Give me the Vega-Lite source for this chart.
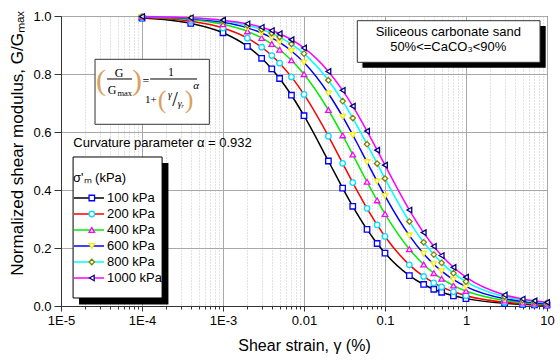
{
  "$schema": "https://vega.github.io/schema/vega-lite/v6.json",
  "width": 486,
  "height": 290,
  "autosize": {"type": "none"},
  "padding": {"left": 61, "top": 16, "right": 13, "bottom": 56},
  "config": {
    "font": "Liberation Sans",
    "view": {"stroke": "#333", "strokeWidth": 1},
    "axis": {"domainColor": "#333", "tickColor": "#333", "labelColor": "black", "titleColor": "black", "titleFontWeight": "normal", "labelFontSize": 13, "labelFont": "Liberation Sans", "titleFont": "Liberation Sans"}
  },
  "datasets": {
    "curves": [
      {"s":"100 kPa","x":0.0001,"g":0.9929},{"s":"100 kPa","x":0.0004,"g":0.9746},{"s":"100 kPa","x":0.001,"g":0.9422},{"s":"100 kPa","x":0.002,"g":0.8953},{"s":"100 kPa","x":0.003,"g":0.8542},{"s":"100 kPa","x":0.004,"g":0.8176},{"s":"100 kPa","x":0.005,"g":0.7845},{"s":"100 kPa","x":0.007,"g":0.7268},{"s":"100 kPa","x":0.01,"g":0.6561},{"s":"100 kPa","x":0.02,"g":0.5},{"s":"100 kPa","x":0.03,"g":0.4067},{"s":"100 kPa","x":0.04,"g":0.3439},{"s":"100 kPa","x":0.06,"g":0.2643},{"s":"100 kPa","x":0.08,"g":0.2155},{"s":"100 kPa","x":0.1,"g":0.1824},{"s":"100 kPa","x":0.2,"g":0.1047},{"s":"100 kPa","x":0.3,"g":0.0742},{"s":"100 kPa","x":0.4,"g":0.0578},{"s":"100 kPa","x":0.5,"g":0.0474},{"s":"100 kPa","x":0.7,"g":0.0351},{"s":"100 kPa","x":1,"g":0.0254},{"s":"100 kPa","x":3,"g":0.0093},{"s":"100 kPa","x":5,"g":0.0058},{"s":"100 kPa","x":7,"g":0.0042},{"s":"100 kPa","x":10,"g":0.003},
      {"s":"200 kPa","x":0.0001,"g":0.995},{"s":"200 kPa","x":0.0004,"g":0.9819},{"s":"200 kPa","x":0.001,"g":0.9584},{"s":"200 kPa","x":0.002,"g":0.9236},{"s":"200 kPa","x":0.003,"g":0.8923},{"s":"200 kPa","x":0.004,"g":0.8637},{"s":"200 kPa","x":0.005,"g":0.8373},{"s":"200 kPa","x":0.007,"g":0.79},{"s":"200 kPa","x":0.01,"g":0.7295},{"s":"200 kPa","x":0.02,"g":0.5857},{"s":"200 kPa","x":0.03,"g":0.4921},{"s":"200 kPa","x":0.04,"g":0.4256},{"s":"200 kPa","x":0.06,"g":0.3368},{"s":"200 kPa","x":0.08,"g":0.2797},{"s":"200 kPa","x":0.1,"g":0.2398},{"s":"200 kPa","x":0.2,"g":0.1419},{"s":"200 kPa","x":0.3,"g":0.1018},{"s":"200 kPa","x":0.4,"g":0.0797},{"s":"200 kPa","x":0.5,"g":0.0658},{"s":"200 kPa","x":0.7,"g":0.0489},{"s":"200 kPa","x":1,"g":0.0356},{"s":"200 kPa","x":3,"g":0.0131},{"s":"200 kPa","x":5,"g":0.0082},{"s":"200 kPa","x":7,"g":0.006},{"s":"200 kPa","x":10,"g":0.0043},
      {"s":"400 kPa","x":0.0001,"g":0.9966},{"s":"400 kPa","x":0.0004,"g":0.9876},{"s":"400 kPa","x":0.001,"g":0.9714},{"s":"400 kPa","x":0.002,"g":0.9469},{"s":"400 kPa","x":0.003,"g":0.9244},{"s":"400 kPa","x":0.004,"g":0.9033},{"s":"400 kPa","x":0.005,"g":0.8836},{"s":"400 kPa","x":0.007,"g":0.8472},{"s":"400 kPa","x":0.01,"g":0.7992},{"s":"400 kPa","x":0.02,"g":0.6759},{"s":"400 kPa","x":0.03,"g":0.5883},{"s":"400 kPa","x":0.04,"g":0.5222},{"s":"400 kPa","x":0.06,"g":0.4282},{"s":"400 kPa","x":0.08,"g":0.3642},{"s":"400 kPa","x":0.1,"g":0.3175},{"s":"400 kPa","x":0.2,"g":0.196},{"s":"400 kPa","x":0.3,"g":0.1432},{"s":"400 kPa","x":0.4,"g":0.1133},{"s":"400 kPa","x":0.5,"g":0.094},{"s":"400 kPa","x":0.7,"g":0.0705},{"s":"400 kPa","x":1,"g":0.0516},{"s":"400 kPa","x":3,"g":0.0192},{"s":"400 kPa","x":5,"g":0.012},{"s":"400 kPa","x":7,"g":0.0088},{"s":"400 kPa","x":10,"g":0.0064},
      {"s":"600 kPa","x":0.0001,"g":0.9974},{"s":"600 kPa","x":0.0004,"g":0.9906},{"s":"600 kPa","x":0.001,"g":0.9781},{"s":"600 kPa","x":0.002,"g":0.9591},{"s":"600 kPa","x":0.003,"g":0.9414},{"s":"600 kPa","x":0.004,"g":0.9247},{"s":"600 kPa","x":0.005,"g":0.9089},{"s":"600 kPa","x":0.007,"g":0.8793},{"s":"600 kPa","x":0.01,"g":0.8395},{"s":"600 kPa","x":0.02,"g":0.7327},{"s":"600 kPa","x":0.03,"g":0.6526},{"s":"600 kPa","x":0.04,"g":0.5896},{"s":"600 kPa","x":0.06,"g":0.4961},{"s":"600 kPa","x":0.08,"g":0.4295},{"s":"600 kPa","x":0.1,"g":0.3795},{"s":"600 kPa","x":0.2,"g":0.2427},{"s":"600 kPa","x":0.3,"g":0.1801},{"s":"600 kPa","x":0.4,"g":0.1438},{"s":"600 kPa","x":0.5,"g":0.1201},{"s":"600 kPa","x":0.7,"g":0.0907},{"s":"600 kPa","x":1,"g":0.0668},{"s":"600 kPa","x":3,"g":0.025},{"s":"600 kPa","x":5,"g":0.0157},{"s":"600 kPa","x":7,"g":0.0115},{"s":"600 kPa","x":10,"g":0.0083},
      {"s":"800 kPa","x":0.0001,"g":0.998},{"s":"800 kPa","x":0.0004,"g":0.9926},{"s":"800 kPa","x":0.001,"g":0.9829},{"s":"800 kPa","x":0.002,"g":0.9678},{"s":"800 kPa","x":0.003,"g":0.9537},{"s":"800 kPa","x":0.004,"g":0.9403},{"s":"800 kPa","x":0.005,"g":0.9274},{"s":"800 kPa","x":0.007,"g":0.9033},{"s":"800 kPa","x":0.01,"g":0.8702},{"s":"800 kPa","x":0.02,"g":0.7784},{"s":"800 kPa","x":0.03,"g":0.7065},{"s":"800 kPa","x":0.04,"g":0.648},{"s":"800 kPa","x":0.06,"g":0.5579},{"s":"800 kPa","x":0.08,"g":0.4911},{"s":"800 kPa","x":0.1,"g":0.4394},{"s":"800 kPa","x":0.2,"g":0.2912},{"s":"800 kPa","x":0.3,"g":0.2197},{"s":"800 kPa","x":0.4,"g":0.1772},{"s":"800 kPa","x":0.5,"g":0.1488},{"s":"800 kPa","x":0.7,"g":0.1133},{"s":"800 kPa","x":1,"g":0.084},{"s":"800 kPa","x":3,"g":0.0319},{"s":"800 kPa","x":5,"g":0.02},{"s":"800 kPa","x":7,"g":0.0147},{"s":"800 kPa","x":10,"g":0.0106},
      {"s":"1000 kPa","x":0.0001,"g":0.9983},{"s":"1000 kPa","x":0.0004,"g":0.9939},{"s":"1000 kPa","x":0.001,"g":0.9857},{"s":"1000 kPa","x":0.002,"g":0.9731},{"s":"1000 kPa","x":0.003,"g":0.9612},{"s":"1000 kPa","x":0.004,"g":0.9499},{"s":"1000 kPa","x":0.005,"g":0.939},{"s":"1000 kPa","x":0.007,"g":0.9184},{"s":"1000 kPa","x":0.01,"g":0.8898},{"s":"1000 kPa","x":0.02,"g":0.8088},{"s":"1000 kPa","x":0.03,"g":0.7436},{"s":"1000 kPa","x":0.04,"g":0.6892},{"s":"1000 kPa","x":0.06,"g":0.6031},{"s":"1000 kPa","x":0.08,"g":0.5375},{"s":"1000 kPa","x":0.1,"g":0.4856},{"s":"1000 kPa","x":0.2,"g":0.331},{"s":"1000 kPa","x":0.3,"g":0.2532},{"s":"1000 kPa","x":0.4,"g":0.2059},{"s":"1000 kPa","x":0.5,"g":0.174},{"s":"1000 kPa","x":0.7,"g":0.1334},{"s":"1000 kPa","x":1,"g":0.0994},{"s":"1000 kPa","x":3,"g":0.0381},{"s":"1000 kPa","x":5,"g":0.024},{"s":"1000 kPa","x":7,"g":0.0177},{"s":"1000 kPa","x":10,"g":0.0127}
    ]
  },
  "layer": [
    {
      "data": {"name": "curves"},
      "mark": {"type": "line", "strokeWidth": 1.5, "interpolate": "monotone"},
      "encoding": {
        "x": {
          "field": "x", "type": "quantitative",
          "scale": {"type": "log", "domain": [1e-5, 10]},
          "axis": {
            "title": "Shear strain, γ (%)", "titleFontSize": 16, "titlePadding": 10,
            "values": [1e-5,2e-5,3e-5,4e-5,5e-5,6e-5,7e-5,8e-5,9e-5,1e-4,2e-4,3e-4,4e-4,5e-4,6e-4,7e-4,8e-4,9e-4,1e-3,2e-3,3e-3,4e-3,5e-3,6e-3,7e-3,8e-3,9e-3,0.01,0.02,0.03,0.04,0.05,0.06,0.07,0.08,0.09,0.1,0.2,0.3,0.4,0.5,0.6,0.7,0.8,0.9,1,2,3,4,5,6,7,8,9,10],
            "labelExpr": "abs(log(datum.value)/LN10 - round(log(datum.value)/LN10)) < 0.01 ? (datum.value < 0.005 ? '1E' + round(log(datum.value)/LN10) : '' + datum.value) : ''",
            "labelFlush": false, "labelOverlap": false, "labelBound": false, "labelPadding": 3,
            "tickSize": {"condition": {"test": "abs(log(datum.value)/LN10 - round(log(datum.value)/LN10)) < 0.01", "value": 5}, "value": 3},
            "grid": true,
            "gridColor": {"condition": {"test": "abs(log(datum.value)/LN10 - round(log(datum.value)/LN10)) < 0.01", "value": "#a8a8a8"}, "value": "#c4c4c4"},
            "gridDash": {"condition": {"test": "abs(log(datum.value)/LN10 - round(log(datum.value)/LN10)) < 0.01", "value": []}, "value": [1, 2]}
          }
        },
        "y": {
          "field": "g", "type": "quantitative",
          "scale": {"domain": [0, 1], "nice": false, "zero": false},
          "axis": {
            "title": "Normalized shear modulus, G/Gₘₐₓ", "titleFontSize": 17, "titlePadding": 6, "titleY": 127,
            "values": [0, 0.1, 0.2, 0.3, 0.4, 0.5, 0.6, 0.7, 0.8, 0.9, 1],
            "labelExpr": "round(datum.value*10) % 2 == 0 ? format(datum.value, '.1f') : ''",
            "labelPadding": 3,
            "tickSize": {"condition": {"test": "round(datum.value*10) % 2 == 0", "value": 7}, "value": 4},
            "grid": true,
            "gridColor": {"condition": {"test": "round(datum.value*10) % 2 == 0", "value": "#a8a8a8"}, "value": "#c4c4c4"},
            "gridDash": {"condition": {"test": "round(datum.value*10) % 2 == 0", "value": []}, "value": [1, 2]}
          }
        },
        "stroke": {
          "field": "s", "type": "nominal",
          "scale": {"domain": ["100 kPa", "200 kPa", "400 kPa", "600 kPa", "800 kPa", "1000 kPa"], "range": ["#000000", "#ff0000", "#00ee00", "#0000ff", "#00ffff", "#ff00ff"]},
          "legend": {
            "orient": "none", "legendX": 12, "legendY": 156, "direction": "vertical",
            "title": "σ'ₘ (kPa)", "titleFontSize": 13, "titleFontWeight": "normal", "titleColor": "black", "titlePadding": 5,
            "labelFontSize": 13, "labelColor": "black", "labelOffset": 2,
            "symbolType": "stroke", "symbolSize": 900, "symbolStrokeWidth": 1.5,
            "clipHeight": 16, "rowPadding": 0, "padding": 0
          }
        }
      }
    },
    {
      "data": {"values": [{}]},
      "mark": {"type": "rect", "fill": "black"},
      "encoding": {
        "x": {"datum": 1.67e-5, "type": "quantitative"},
        "x2": {"datum": 2.12e-4},
        "y": {"datum": 0.0052, "type": "quantitative"},
        "y2": {"datum": 0.4931}
      }
    },
    {
      "data": {"values": [{}]},
      "mark": {"type": "rect", "fill": "white", "stroke": "black", "strokeWidth": 1},
      "encoding": {
        "x": {"datum": 1.41e-5, "type": "quantitative"},
        "x2": {"datum": 1.77e-4},
        "y": {"datum": 0.0276, "type": "quantitative"},
        "y2": {"datum": 0.5138}
      }
    },
    {
      "data": {"name": "curves"},
      "mark": {"type": "point", "filled": true, "fill": "white", "size": 30, "strokeWidth": 1.3, "opacity": 1},
      "encoding": {
        "x": {"field": "x", "type": "quantitative"},
        "y": {"field": "g", "type": "quantitative"},
        "stroke": {
          "field": "s", "type": "nominal",
          "scale": {"domain": ["100 kPa", "200 kPa", "400 kPa", "600 kPa", "800 kPa", "1000 kPa"], "range": ["#0000ff", "#00e0ff", "#ff00ff", "#f0f000", "#808000", "#000080"]},
          "legend": {
            "orient": "none", "legendX": 24.3, "legendY": 156, "direction": "vertical",
            "title": " ", "titleFontSize": 13, "titleFontWeight": "normal", "titlePadding": 5,
            "labelFontSize": 13, "labelExpr": "''", "labelOffset": 4,
            "symbolSize": 30, "symbolStrokeWidth": 1.3, "symbolFillColor": "white",
            "clipHeight": 16, "rowPadding": 0, "padding": 0
          }
        },
        "shape": {
          "field": "s", "type": "nominal",
          "scale": {"domain": ["100 kPa", "200 kPa", "400 kPa", "600 kPa", "800 kPa", "1000 kPa"], "range": ["square", "circle", "triangle-up", "triangle-down", "diamond", "triangle-left"]},
          "legend": {
            "orient": "none", "legendX": 24.3, "legendY": 156, "direction": "vertical",
            "title": " ", "titleFontSize": 13, "titleFontWeight": "normal", "titlePadding": 5,
            "labelFontSize": 13, "labelExpr": "''", "labelOffset": 4,
            "symbolSize": 30, "symbolStrokeWidth": 1.3, "symbolFillColor": "white",
            "clipHeight": 16, "rowPadding": 0, "padding": 0
          }
        }
      }
    },
    {
      "data": {"values": [{}]},
      "mark": {"type": "rect", "fill": "white", "stroke": "#333", "strokeWidth": 1},
      "encoding": {
        "x": {"datum": 2.63e-5, "type": "quantitative"},
        "x2": {"datum": 6.78e-4},
        "y": {"datum": 0.6266, "type": "quantitative"},
        "y2": {"datum": 0.8507}
      }
    },
    {"data": {"values": [{}]}, "mark": {"type": "text", "text": "(", "font": "Liberation Serif", "fontSize": 30, "color": "#d9a060"}, "encoding": {"x": {"datum": 3.118e-5, "type": "quantitative"}, "y": {"datum": 0.776, "type": "quantitative"}}},
    {"data": {"values": [{}]}, "mark": {"type": "text", "text": ")", "font": "Liberation Serif", "fontSize": 30, "color": "#d9a060"}, "encoding": {"x": {"datum": 8.68e-5, "type": "quantitative"}, "y": {"datum": 0.776, "type": "quantitative"}}},
    {"data": {"values": [{}]}, "mark": {"type": "text", "text": "G", "font": "Liberation Serif", "fontSize": 12, "color": "black"}, "encoding": {"x": {"datum": 5.2e-5, "type": "quantitative"}, "y": {"datum": 0.8034, "type": "quantitative"}}},
    {"data": {"values": [{}]}, "mark": {"type": "rule", "color": "black", "strokeWidth": 1}, "encoding": {"x": {"datum": 3.7e-5, "type": "quantitative"}, "x2": {"datum": 7.52e-5}, "y": {"datum": 0.7828, "type": "quantitative"}}},
    {"data": {"values": [{}]}, "mark": {"type": "text", "text": "G", "font": "Liberation Serif", "fontSize": 12, "color": "black"}, "encoding": {"x": {"datum": 4.26e-5, "type": "quantitative"}, "y": {"datum": 0.7448, "type": "quantitative"}}},
    {"data": {"values": [{}]}, "mark": {"type": "text", "text": "max", "font": "Liberation Serif", "fontSize": 8.5, "align": "left", "color": "black"}, "encoding": {"x": {"datum": 4.98e-5, "type": "quantitative"}, "y": {"datum": 0.7345, "type": "quantitative"}}},
    {"data": {"values": [{}]}, "mark": {"type": "text", "text": "=", "font": "Liberation Serif", "fontSize": 12, "color": "black"}, "encoding": {"x": {"datum": 1.12e-4, "type": "quantitative"}, "y": {"datum": 0.776, "type": "quantitative"}}},
    {"data": {"values": [{}]}, "mark": {"type": "text", "text": "1", "font": "Liberation Serif", "fontSize": 12, "color": "black"}, "encoding": {"x": {"datum": 2.28e-4, "type": "quantitative"}, "y": {"datum": 0.8069, "type": "quantitative"}}},
    {"data": {"values": [{}]}, "mark": {"type": "rule", "color": "black", "strokeWidth": 1}, "encoding": {"x": {"datum": 1.26e-4, "type": "quantitative"}, "x2": {"datum": 4.78e-4}, "y": {"datum": 0.7828, "type": "quantitative"}}},
    {"data": {"values": [{}]}, "mark": {"type": "text", "text": "1+", "font": "Liberation Serif", "fontSize": 11, "color": "black"}, "encoding": {"x": {"datum": 1.29e-4, "type": "quantitative"}, "y": {"datum": 0.7103, "type": "quantitative"}}},
    {"data": {"values": [{}]}, "mark": {"type": "text", "text": "(", "font": "Liberation Serif", "fontSize": 26, "color": "#d9a060"}, "encoding": {"x": {"datum": 1.766e-4, "type": "quantitative"}, "y": {"datum": 0.7103, "type": "quantitative"}}},
    {"data": {"values": [{}]}, "mark": {"type": "text", "text": "γ", "font": "Liberation Serif", "fontSize": 10, "fontStyle": "italic", "color": "black"}, "encoding": {"x": {"datum": 2.216e-4, "type": "quantitative"}, "y": {"datum": 0.7276, "type": "quantitative"}}},
    {"data": {"values": [{}]}, "mark": {"type": "text", "text": "/", "font": "Liberation Serif", "fontSize": 20, "color": "black"}, "encoding": {"x": {"datum": 2.55e-4, "type": "quantitative"}, "y": {"datum": 0.7103, "type": "quantitative"}}},
    {"data": {"values": [{}]}, "mark": {"type": "text", "text": "γᵣ", "font": "Liberation Serif", "fontSize": 10, "fontStyle": "italic", "color": "black"}, "encoding": {"x": {"datum": 3.03e-4, "type": "quantitative"}, "y": {"datum": 0.6966, "type": "quantitative"}}},
    {"data": {"values": [{}]}, "mark": {"type": "text", "text": ")", "font": "Liberation Serif", "fontSize": 26, "color": "#d9a060"}, "encoding": {"x": {"datum": 3.8e-4, "type": "quantitative"}, "y": {"datum": 0.7103, "type": "quantitative"}}},
    {"data": {"values": [{}]}, "mark": {"type": "text", "text": "α", "font": "Liberation Serif", "fontSize": 11, "fontStyle": "italic", "color": "black"}, "encoding": {"x": {"datum": 4.65e-4, "type": "quantitative"}, "y": {"datum": 0.7586, "type": "quantitative"}}},
    {"data": {"values": [{}]}, "mark": {"type": "text", "text": "Curvature parameter α = 0.932", "fontSize": 13, "align": "left", "color": "black"}, "encoding": {"x": {"datum": 1.42e-5, "type": "quantitative"}, "y": {"datum": 0.563, "type": "quantitative"}}},
    {
      "data": {"values": [{}]},
      "mark": {"type": "rect", "fill": "black"},
      "encoding": {
        "x": {"datum": 0.0527, "type": "quantitative"},
        "x2": {"datum": 9.64},
        "y": {"datum": 0.8217, "type": "quantitative"},
        "y2": {"datum": 0.9655}
      }
    },
    {
      "data": {"values": [{}]},
      "mark": {"type": "rect", "fill": "white", "stroke": "#333", "strokeWidth": 1},
      "encoding": {
        "x": {"datum": 0.0455, "type": "quantitative"},
        "x2": {"datum": 8.2},
        "y": {"datum": 0.8403, "type": "quantitative"},
        "y2": {"datum": 0.9838}
      }
    },
    {"data": {"values": [{}]}, "mark": {"type": "text", "text": "Siliceous carbonate sand", "fontSize": 13, "color": "black"}, "encoding": {"x": {"datum": 0.604, "type": "quantitative"}, "y": {"datum": 0.9459, "type": "quantitative"}}},
    {"data": {"values": [{}]}, "mark": {"type": "text", "text": "50%<=CaCO₃<90%", "fontSize": 13, "color": "black"}, "encoding": {"x": {"datum": 0.604, "type": "quantitative"}, "y": {"datum": 0.8941, "type": "quantitative"}}}
  ],
  "resolve": {"scale": {"stroke": "independent"}, "legend": {"stroke": "independent", "shape": "independent"}}
}
